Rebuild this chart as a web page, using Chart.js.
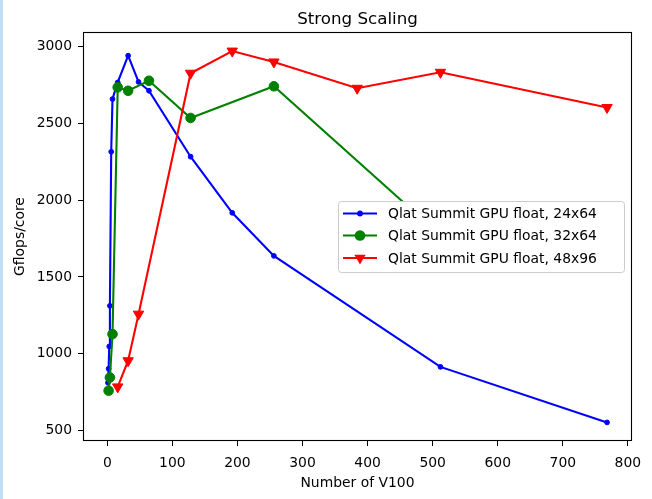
<!DOCTYPE html>
<html>
<head>
<meta charset="utf-8">
<script src="https://cdn.jsdelivr.net/npm/chart.js@4"></script>
<style>
  html, body { margin: 0; padding: 0; background: #fff; }
  #wrap { position: relative; width: 652px; height: 499px; }
  #edge { position: absolute; left: 0; top: 0; width: 3px; height: 499px; background: #c2ddf6; }
</style>
</head>
<body>
<div id="wrap">
  <canvas id="myChart" width="652" height="499"></canvas>
  <div id="edge"></div>
</div>
<script>
const xTicks = [0, 100, 200, 300, 400, 500, 600, 700, 800];
const yTicks = [500, 1000, 1500, 2000, 2500, 3000];

const names = ['Qlat Summit GPU float, 24x64', 'Qlat Summit GPU float, 32x64', 'Qlat Summit GPU float, 48x96'];

const gpus24 = [1, 2, 3, 4, 6, 8, 16, 32, 48, 64, 128, 192, 256, 512, 768];
const flops24 = [812, 903, 1048, 1312, 2314, 2657, 2765, 2939, 2768, 2711, 2282, 1917, 1637, 915, 554];

const gpus32 = [2, 4, 8, 16, 32, 64, 128, 256, 512];
const flops32 = [760, 846, 1128, 2733, 2711, 2776, 2534, 2740, 1770];

const gpus48 = [16, 32, 48, 128, 192, 256, 384, 512, 768];
const flops48 = [785, 955, 1258, 2825, 2969, 2898, 2727, 2831, 2602];

const toPoints = (xs, ys) => xs.map((x, i) => ({x: x, y: ys[i]}));

const font = {family: 'DejaVu Sans', size: 13.9};
Chart.defaults.font.family = 'DejaVu Sans';
Chart.defaults.color = '#000';

// frame, legend box and titles, drawn the way matplotlib places them
const extras = {
  id: 'extras',
  afterDraw(chart) {
    const c = chart.ctx;
    const a = chart.chartArea;
    c.save();
    c.strokeStyle = '#000';
    c.lineWidth = 1.1;
    c.strokeRect(Math.round(a.left) + 0.5, Math.round(a.top) + 0.5, Math.round(a.right - a.left) - 1, Math.round(a.bottom - a.top) - 1);

    // legend
    const lx = 338.5, ly = 201.5, lw = 286, lh = 71;
    c.beginPath();
    c.roundRect(lx, ly, lw, lh, 3);
    c.fillStyle = '#ffffff';
    c.fill();
    c.strokeStyle = '#cccccc';
    c.lineWidth = 1;
    c.stroke();
    const rows = [213.5, 235.5, 258];
    chart.data.datasets.forEach((ds, i) => {
      const y = rows[i];
      c.strokeStyle = ds.borderColor;
      c.lineWidth = 2.1;
      c.beginPath();
      c.moveTo(343, y);
      c.lineTo(377, y);
      c.stroke();
      c.fillStyle = ds.borderColor;
      c.beginPath();
      if (ds.pointStyle === 'triangle') {
        const r = ds.pointRadius + 0.5;
        for (let k = 0; k < 3; k++) {
          const ang = Math.PI + k * 2 * Math.PI / 3;
          const px = 360 + Math.sin(ang) * r, py = y - Math.cos(ang) * r;
          if (k === 0) c.moveTo(px, py); else c.lineTo(px, py);
        }
        c.closePath();
      } else {
        c.arc(360, y, ds.pointRadius + 0.5, 0, Math.PI * 2);
      }
      c.fill();
      c.fillStyle = '#000';
      c.font = '13.9px "DejaVu Sans"';
      c.textAlign = 'left';
      c.textBaseline = 'middle';
      c.fillText(ds.label, 388, y + 1);
    });

    // titles
    const cx = (a.left + a.right) / 2;
    c.fillStyle = '#000';
    c.textAlign = 'center';
    c.textBaseline = 'alphabetic';
    c.font = '16.7px "DejaVu Sans"';
    c.fillText('Strong Scaling', cx, 23.5);
    c.font = '13.9px "DejaVu Sans"';
    c.fillText('Number of V100', cx, 487);
    c.translate(24, (a.top + a.bottom) / 2);
    c.rotate(-Math.PI / 2);
    c.fillText('Gflops/core', 0, 0);
    c.restore();
  }
};

const ctx = document.getElementById('myChart');

const chart = new Chart(ctx, {
  type: 'scatter',
  data: {
    datasets: [{
      label: names[0],
      data: toPoints(gpus24, flops24),
      showLine: true,
      borderColor: '#0000ff',
      backgroundColor: '#0000ff',
      borderWidth: 2.1,
      pointStyle: 'circle',
      pointRadius: 2.4,
      pointBorderWidth: 1,
      order: 3
    }, {
      label: names[1],
      data: toPoints(gpus32, flops32),
      showLine: true,
      borderColor: '#008000',
      backgroundColor: '#008000',
      borderWidth: 2.1,
      pointStyle: 'circle',
      pointRadius: 4.8,
      pointBorderWidth: 1,
      order: 2
    }, {
      label: names[2],
      data: toPoints(gpus48, flops48),
      showLine: true,
      borderColor: '#ff0000',
      backgroundColor: '#ff0000',
      borderWidth: 2.1,
      pointStyle: 'triangle',
      pointRotation: 180,
      pointRadius: 6,
      pointBorderWidth: 1,
      order: 1
    }]
  },
  options: {
    responsive: false,
    animation: false,
    layout: {padding: {left: 0, right: 20, top: 32, bottom: 0}},
    scales: {
      x: {
        type: 'linear',
        min: -37.35,
        max: 806.35,
        afterBuildTicks: s => { s.ticks = xTicks.map(v => ({value: v})); },
        afterFit: s => { s.height = 58; },
        grid: {drawOnChartArea: false, tickLength: 5, color: '#000', lineWidth: 1},
        border: {display: false},
        ticks: {font: font, color: '#000', padding: 9, maxRotation: 0, callback: v => String(v)}
      },
      y: {
        type: 'linear',
        min: 433,
        max: 3093,
        afterBuildTicks: s => { s.ticks = yTicks.map(v => ({value: v})); },
        afterFit: s => { s.width = 83; },
        grid: {drawOnChartArea: false, tickLength: 5, color: '#000', lineWidth: 1},
        border: {display: false},
        ticks: {font: font, color: '#000', padding: 6, callback: v => String(v)}
      }
    },
    plugins: {
      legend: {display: false},
      title: {display: false},
      tooltip: {enabled: false}
    }
  },
  plugins: [extras]
});
</script>
</body>
</html>
